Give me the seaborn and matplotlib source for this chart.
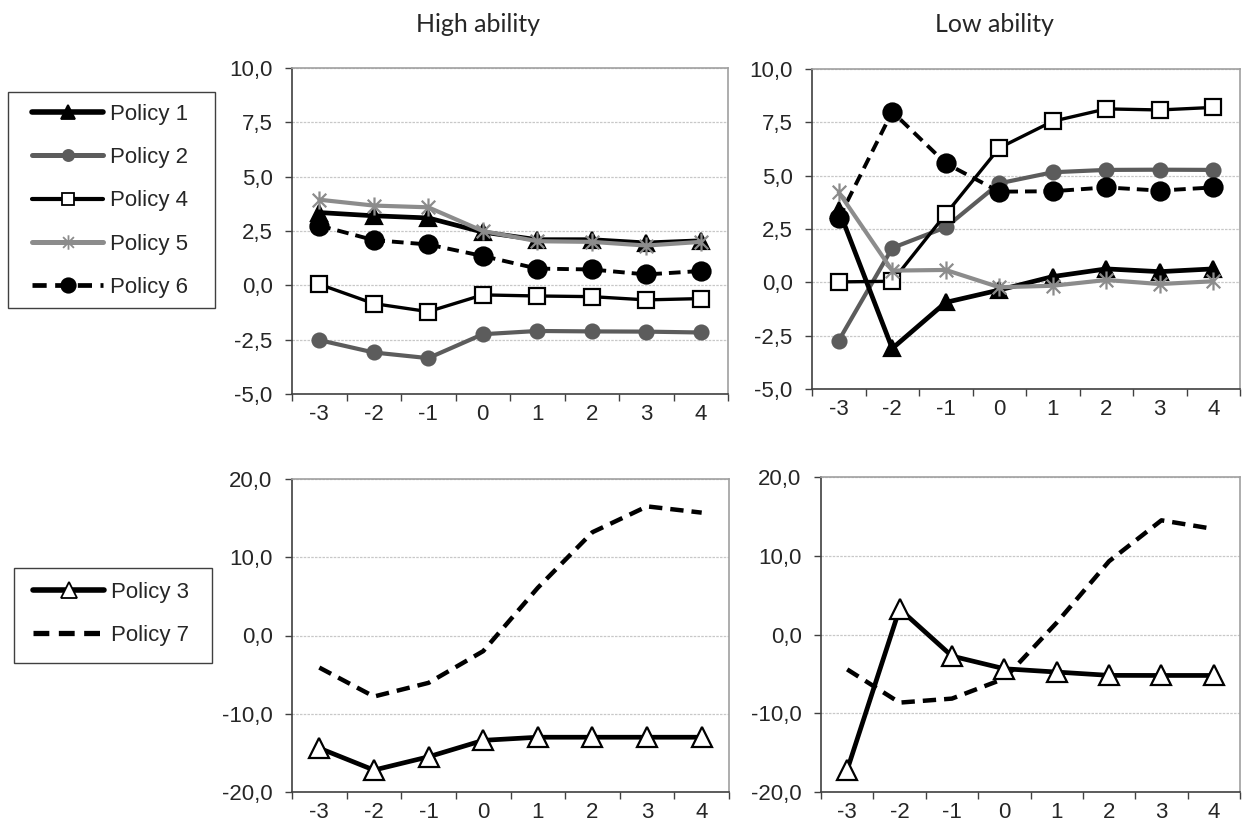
import matplotlib
matplotlib.use("Agg")
import matplotlib.pyplot as plt
import numpy as np
import pandas as pd
import seaborn as sns
from matplotlib.ticker import FixedLocator, FuncFormatter
from matplotlib.lines import Line2D
from matplotlib.patches import Rectangle
from matplotlib.path import Path

# categories (years relative to policy)
periods = [-3, -2, -1, 0, 1, 2, 3, 4]

# top row: policies 1, 2, 4, 5, 6
high_p1 = [3.35, 3.2, 3.1, 2.45, 2.1, 2.1, 1.95, 2.05]
high_p2 = [-2.52, -3.09, -3.35, -2.25, -2.1, -2.12, -2.13, -2.17]
high_p4 = [0.05, -0.84, -1.21, -0.44, -0.49, -0.52, -0.67, -0.61]
high_p5 = [3.94, 3.67, 3.59, 2.5, 2.03, 2.0, 1.83, 2.0]
high_p6 = [2.75, 2.08, 1.88, 1.35, 0.77, 0.73, 0.5, 0.66]

low_p1 = [3.4, -3.1, -0.94, -0.36, 0.27, 0.63, 0.5, 0.63]
low_p2 = [-2.73, 1.61, 2.58, 4.64, 5.16, 5.27, 5.28, 5.27]
low_p4 = [0.02, 0.05, 3.2, 6.3, 7.55, 8.13, 8.08, 8.2]
low_p5 = [4.22, 0.55, 0.58, -0.23, -0.16, 0.11, -0.08, 0.05]
low_p6 = [3.0, 8.0, 5.58, 4.25, 4.27, 4.45, 4.3, 4.45]

# bottom row: policies 3 and 7
high_p3 = [-14.4, -17.2, -15.5, -13.4, -13.0, -13.0, -13.0, -13.0]
high_p7 = [-4.1, -7.8, -6.05, -2.0, 6.1, 13.2, 16.5, 15.7]
low_p3 = [-17.2, 3.25, -2.74, -4.35, -4.77, -5.19, -5.2, -5.2]
low_p7 = [-4.43, -8.65, -8.14, -5.6, 1.5, 9.3, 14.5, 13.4]

BLACK = "#000000"
DGRAY = "#5c5c5c"
LGRAY = "#8c8c8c"
# excel style star: an X with a vertical bar
STAR = Path([(0, -1), (0, 1), (-0.75, -0.75), (0.75, 0.75), (-0.75, 0.75), (0.75, -0.75)],
            [Path.MOVETO, Path.LINETO, Path.MOVETO, Path.LINETO, Path.MOVETO, Path.LINETO])
DASH = (0, (3, 1.8))

styles_top = {
    "Policy 1": dict(color=BLACK, lw=3.4, ls="-", marker="^", mfc=BLACK, mec=BLACK, ms=12),
    "Policy 2": dict(color=DGRAY, lw=3.0, ls="-", marker="o", mfc=DGRAY, mec=DGRAY, ms=10),
    "Policy 4": dict(color=BLACK, lw=2.4, ls="-", marker="s", mfc="white", mec=BLACK, ms=11),
    "Policy 5": dict(color=LGRAY, lw=3.0, ls="-", marker=STAR, mfc=LGRAY, mec=LGRAY, ms=13),
    "Policy 6": dict(color=BLACK, lw=2.8, ls=DASH, marker="o", mfc=BLACK, mec=BLACK, ms=13),
}
styles_bot = {
    "Policy 3": dict(color=BLACK, lw=3.4, ls="-", marker="^", mfc="white", mec=BLACK, ms=14),
    "Policy 7": dict(color=BLACK, lw=3.2, ls=DASH, marker=None, mfc=BLACK, mec=BLACK, ms=0),
}

sns.set_style("white")
plt.rcParams["font.family"] = ["Liberation Sans", "DejaVu Sans"]
plt.rcParams["font.size"] = 16

W, H = 1244, 834
fig = plt.figure(figsize=(W / 100, H / 100), dpi=100)


def box(l, t, r, b):
    return [l / W, 1 - b / H, (r - l) / W, (b - t) / H]


comma = FuncFormatter(lambda v, p: f"{v:.1f}".replace(".", ","))


def draw(ax, series, styles, ylim, ystep):
    x = np.arange(len(periods))
    for name, vals in series.items():
        st = styles[name]
        df = pd.DataFrame({"x": x, "y": vals})
        sns.lineplot(data=df, x="x", y="y", ax=ax, color=st["color"], lw=st["lw"],
                     marker=st["marker"], markersize=st["ms"], markerfacecolor=st["mfc"],
                     markeredgecolor=st["mec"], markeredgewidth=1.6, linestyle=st["ls"],
                     legend=False, zorder=3)
    ax.set_xlim(-0.5, len(periods) - 0.5)
    ax.set_ylim(*ylim)
    ax.set_xlabel("")
    ax.set_ylabel("")
    ax.xaxis.set_major_locator(FixedLocator(np.arange(-0.5, len(periods), 1.0)))
    ax.xaxis.set_major_formatter(FuncFormatter(lambda v, p: ""))
    ax.xaxis.set_minor_locator(FixedLocator(x))
    ax.set_xticklabels([str(p) for p in periods], minor=True)
    ax.tick_params(axis="x", which="major", direction="out", length=5, width=1, color="#404040", bottom=True)
    ax.tick_params(axis="x", which="minor", length=0, pad=7, labelsize=16)
    ax.set_yticks(np.arange(ylim[0], ylim[1] + 0.01, ystep))
    ax.yaxis.set_major_formatter(comma)
    ax.tick_params(axis="y", direction="out", length=5, width=1, color="#404040", left=True,
                   labelsize=16, pad=9)
    ax.grid(axis="y", color="#c8c8c8", ls=(0, (2, 1)), lw=0.9, zorder=0)
    for s in ["top", "right"]:
        ax.spines[s].set_color("#a0a0a0")
        ax.spines[s].set_linewidth(1.2)
    for s in ["left", "bottom"]:
        ax.spines[s].set_color("#404040")
        ax.spines[s].set_linewidth(1.2)


ax1 = fig.add_axes(box(292, 68, 728, 394))
draw(ax1, {"Policy 2": high_p2, "Policy 4": high_p4, "Policy 6": high_p6,
           "Policy 1": high_p1, "Policy 5": high_p5}, styles_top, (-5, 10), 2.5)
ax2 = fig.add_axes(box(812, 69, 1240, 389))
draw(ax2, {"Policy 2": low_p2, "Policy 4": low_p4, "Policy 6": low_p6,
           "Policy 1": low_p1, "Policy 5": low_p5}, styles_top, (-5, 10), 2.5)
ax3 = fig.add_axes(box(292, 479, 729, 792))
draw(ax3, {"Policy 7": high_p7, "Policy 3": high_p3}, styles_bot, (-20, 20), 10)
ax4 = fig.add_axes(box(821, 477, 1240, 792))
draw(ax4, {"Policy 7": low_p7, "Policy 3": low_p3}, styles_bot, (-20, 20), 10)

title_font = ["Lato", "DejaVu Sans"]
fig.text(478 / W, 1 - 25 / H, "High ability", ha="center", va="center", fontsize=18, family=title_font)
fig.text(994 / W, 1 - 25 / H, "Low ability", ha="center", va="center", fontsize=18, family=title_font)


def handles(styles):
    out = []
    for name, st in styles.items():
        out.append(Line2D([], [], color=st["color"], lw=st["lw"] + 0.6, ls=st["ls"],
                          marker=st["marker"], markersize=st["ms"] * 0.8,
                          markerfacecolor=st["mfc"], markeredgecolor=st["mec"],
                          markeredgewidth=1.3, label=name))
    return out


def legend_box(styles, frame, handle_x, row_top):
    l, t, r, b = frame
    fig.patches.append(Rectangle((l / W, 1 - b / H), (r - l) / W, (b - t) / H,
                                 transform=fig.transFigure, fill=False,
                                 edgecolor="#404040", lw=1.0))
    fig.legend(handles=handles(styles), loc="upper left", bbox_to_anchor=(handle_x / W, 1 - row_top / H),
               frameon=False, handlelength=3.2, handletextpad=0.3, borderpad=0, borderaxespad=0,
               labelspacing=1.0, fontsize=16)


legend_box(styles_top, (8, 92, 215, 308), 32, 104)
legend_box(styles_bot, (14, 568, 212, 663), 33, 582)

fig.savefig("out.png", dpi=100)
